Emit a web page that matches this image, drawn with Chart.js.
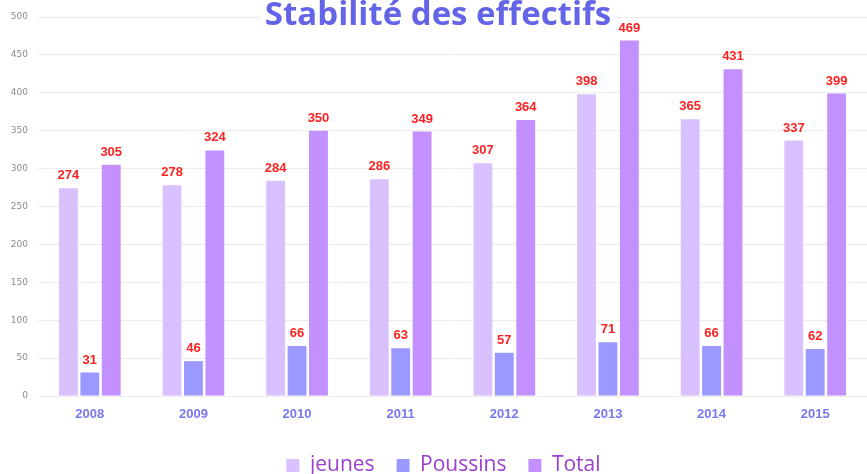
<!DOCTYPE html>
<html>
<head>
<meta charset="utf-8">
<script src="https://cdn.jsdelivr.net/npm/chart.js@4"></script>
<style>
  html, body { margin: 0; padding: 0; background: #fff; }
  #wrap { width: 867px; height: 474px; position: relative; }
</style>
</head>
<body>
<div id="wrap"><canvas id="effectifsChart"></canvas></div>
<script>
const years = ['2008', '2009', '2010', '2011', '2012', '2013', '2014', '2015'];
const jeunes = [274, 278, 284, 286, 307, 398, 365, 337];
const poussins = [31, 46, 66, 63, 57, 71, 66, 62];
const total = [305, 324, 350, 349, 364, 469, 431, 399];
const yTicks = [0, 50, 100, 150, 200, 250, 300, 350, 400, 450, 500];

// red value labels above each bar
const valueLabels = {
    id: 'valueLabels',
    afterDatasetsDraw(chart) {
        const c = chart.ctx;
        c.save();
        c.fillStyle = '#ff2222';
        c.font = 'bold 13px "Liberation Sans", Arial, sans-serif';
        c.textAlign = 'center';
        c.textBaseline = 'bottom';
        chart.data.datasets.forEach(function(ds, i) {
            chart.getDatasetMeta(i).data.forEach(function(bar, j) {
                c.fillText(ds.data[j], bar.x, bar.y - 6);
            });
        });
        c.restore();
    }
};

// title sits partly outside the top of the picture
const topTitle = {
    id: 'topTitle',
    afterDraw(chart) {
        const c = chart.ctx;
        c.save();
        c.font = 'bold 33px "Open Sans", sans-serif';
        c.textAlign = 'center';
        c.textBaseline = 'alphabetic';
        const w = c.measureText('Stabilité des effectifs').width;
        c.fillStyle = '#ffffff';
        c.fillRect(438 - w / 2 - 4, 0, w + 8, 22);
        c.fillStyle = '#6464e8';
        c.fillText('Stabilité des effectifs', 438, 25);
        c.restore();
    }
};

// legend is a bit right of centre in the original
const legendShift = {
    id: 'legendShift',
    beforeDraw(chart) {
        chart.legend.left = 20;
    }
};

const ctx = document.getElementById('effectifsChart').getContext('2d');
const chart = new Chart(ctx, {
    type: 'bar',
    data: {
        labels: years,
        datasets: [{
            label: 'jeunes',
            data: jeunes,
            backgroundColor: '#d9c0ff'
        }, {
            label: 'Poussins',
            data: poussins,
            backgroundColor: '#9999ff'
        }, {
            label: 'Total',
            data: total,
            backgroundColor: '#c390ff'
        }]
    },
    options: {
        responsive: true,
        maintainAspectRatio: false,
        animation: false,
        layout: { padding: { top: 17, right: 0, bottom: -12, left: 0 } },
        datasets: {
            bar: { categoryPercentage: 0.62, barPercentage: 0.88 }
        },
        scales: {
            x: {
                grid: { display: false },
                border: { display: false },
                ticks: {
                    color: '#7878ee',
                    font: { family: '"Liberation Sans", Arial, sans-serif', size: 13, weight: 'bold' },
                    padding: 3
                },
                afterFit(scale) { scale.height = 37; }
            },
            y: {
                min: 0,
                max: 500,
                afterBuildTicks(scale) { scale.ticks = yTicks.map(v => ({ value: v })); },
                grid: { color: '#ececec', drawTicks: false },
                border: { display: false },
                ticks: {
                    color: '#8a8a8a',
                    font: { family: '"DejaVu Sans", sans-serif', size: 9 },
                    padding: 10
                },
                afterFit(scale) { scale.width = 38; }
            }
        },
        plugins: {
            legend: {
                position: 'bottom',
                labels: {
                    color: '#9b3fcf',
                    font: { family: '"Open Sans", sans-serif', size: 21 },
                    boxWidth: 13,
                    boxHeight: 13,
                    padding: 22
                }
            },
            title: { display: false },
            tooltip: { enabled: false }
        }
    },
    plugins: [valueLabels, topTitle, legendShift]
});
</script>
</body>
</html>
